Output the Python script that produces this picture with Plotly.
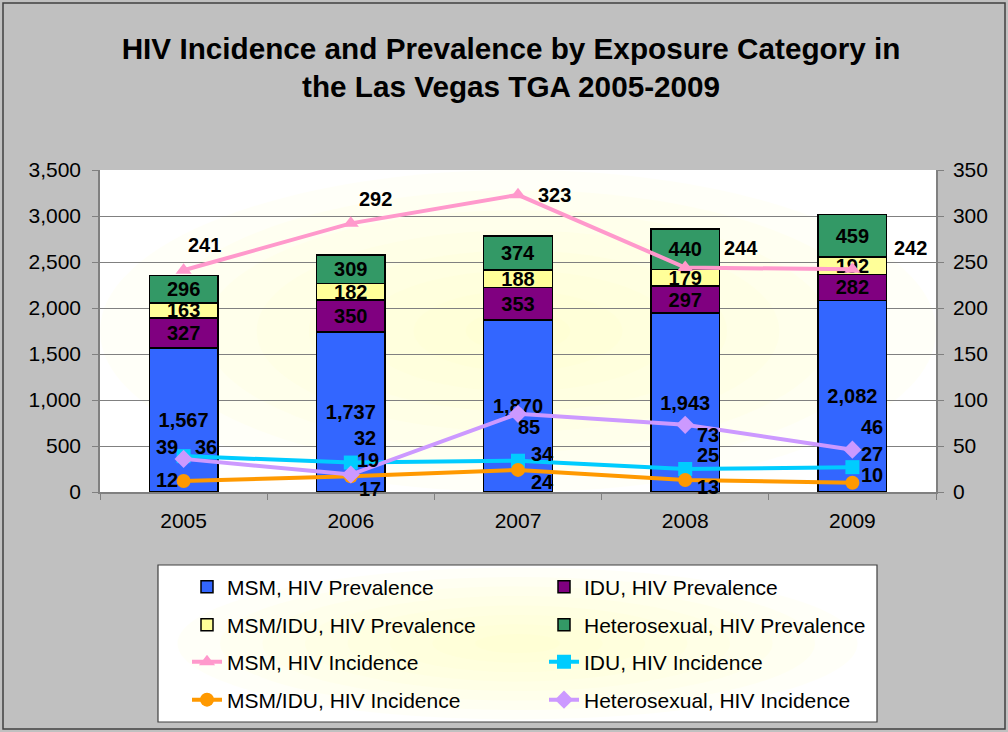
import plotly.graph_objects as go

# ---------------- data ----------------
years = ["2005", "2006", "2007", "2008", "2009"]
msm_prev = [1567, 1737, 1870, 1943, 2082]
idu_prev = [327, 350, 353, 297, 282]
msmidu_prev = [163, 182, 188, 179, 192]
het_prev = [296, 309, 374, 440, 459]
msm_inc = [241, 292, 323, 244, 242]
idu_inc = [39, 32, 34, 25, 27]
msmidu_inc = [12, 17, 24, 13, 10]
het_inc = [36, 19, 85, 73, 46]

# ---------------- layout helpers ----------------
W, H = 1008, 732
L, R, T, B = 100, 936, 170, 492
FONT = "Liberation Sans, Arial, sans-serif"


def px(xp):
    return (xp - L) / (R - L)


def py(yp):
    return (B - yp) / (B - T)


# label offsets (pixels: dx right, dy down) for the incidence labels
msm_off = [(21, -25), (25, -24), (36, 0), (56, -20), (58, -21)]
idu_off = [(-17, -9), (14, -25), (24, -7), (23, -14), (20, -13)]
msmidu_off = [(-17, -1), (19, 13), (24, 12), (23, 7), (20, -8)]
het_off = [(22, -12), (17, -15), (11, 13), (23, 10), (20, -23)]

fig = go.Figure()

bar_specs = [
    ("MSM, HIV Prevalence", msm_prev, "#3366FF", "legend"),
    ("IDU, HIV Prevalence", idu_prev, "#800080", "legend"),
    ("MSM/IDU, HIV Prevalence", msmidu_prev, "#FFFF99", "legend2"),
    ("Heterosexual, HIV Prevalence", het_prev, "#339966", "legend2"),
]
for name, vals, col, lg in bar_specs:
    fig.add_trace(go.Bar(
        x=years, y=vals, name=name, legend=lg,
        marker=dict(color=col, line=dict(color="#000000", width=1.5)),
        texttemplate="%{y:,}", textposition="inside", insidetextanchor="middle",
        constraintext="none", textangle=0,
        textfont=dict(family=FONT, size=20, color="#000000", weight="bold"),
        cliponaxis=False, hoverinfo="skip",
    ))

line_specs = [
    ("MSM, HIV Incidence", msm_inc, "#FF99CC", "triangle-up", msm_off, "legend3"),
    ("IDU, HIV Incidence", idu_inc, "#00CCFF", "square", idu_off, "legend3"),
    ("MSM/IDU, HIV Incidence", msmidu_inc, "#FF9900", "circle", msmidu_off, "legend4"),
    ("Heterosexual, HIV Incidence", het_inc, "#CC99FF", "diamond", het_off, "legend4"),
]
for name, vals, col, sym, offs, lg in line_specs:
    fig.add_trace(go.Scatter(
        x=years, y=vals, name=name, legend=lg, yaxis="y2",
        mode="lines+markers",
        line=dict(color=col, width=4),
        marker=dict(symbol=sym, size=14, color=col),
        cliponaxis=False, hoverinfo="skip",
    ))
    for i, (v, (dx, dy)) in enumerate(zip(vals, offs)):
        fig.add_annotation(
            x=i, y=v, xref="x", yref="y2", text=str(v), showarrow=False,
            xshift=dx, yshift=-dy,
            font=dict(family=FONT, size=20, color="#000000", weight="bold"),
        )

# ---------------- background shapes ----------------
shapes = []
# outer frame
shapes.append(dict(type="rect", xref="paper", yref="paper",
                   x0=px(3), x1=px(1005), y0=py(729), y1=py(3),
                   line=dict(color="#404040", width=1.5), fillcolor="rgba(0,0,0,0)",
                   layer="below"))
# plot area gradient (white edges -> pale yellow centre)
pcx, pcy = (L + R) / 2, (T + B) / 2
for i in range(8):
    f = 1 - i / 8
    rx, ry = 418 * f, 161 * f
    shapes.append(dict(type="circle", xref="paper", yref="paper",
                       x0=px(pcx - rx), x1=px(pcx + rx), y0=py(pcy + ry), y1=py(pcy - ry),
                       line=dict(width=0), fillcolor="rgba(255,255,190,0.10)", layer="below"))
# legend box
lx0, lx1, ly0, ly1 = 158, 877, 565, 722
shapes.append(dict(type="rect", xref="paper", yref="paper",
                   x0=px(lx0), x1=px(lx1), y0=py(ly1), y1=py(ly0),
                   line=dict(color="#404040", width=1.2), fillcolor="#FFFFFF", layer="below"))
lcx, lcy = (lx0 + lx1) / 2, (ly0 + ly1) / 2
for i in range(8):
    f = 1 - i / 8
    rx, ry = 340 * f, 76 * f
    shapes.append(dict(type="circle", xref="paper", yref="paper",
                       x0=px(lcx - rx), x1=px(lcx + rx), y0=py(lcy + ry), y1=py(lcy - ry),
                       line=dict(width=0), fillcolor="rgba(255,255,190,0.10)", layer="below"))

legend_rows = [587, 625, 662, 700]
legend_common = dict(orientation="h", xanchor="left", yanchor="middle",
                     bgcolor="rgba(0,0,0,0)", borderwidth=0,
                     font=dict(family=FONT, size=21, color="#000000"),
                     entrywidth=312, entrywidthmode="pixels", traceorder="normal",
                     itemclick=False, itemdoubleclick=False)
legends = {}
for key, ry in zip(["legend", "legend2", "legend3", "legend4"], legend_rows):
    legends[key] = dict(legend_common, x=px(187), y=py(ry))

TICKFONT = dict(family=FONT, size=21, color="#000000")

fig.update_layout(
    width=W, height=H,
    margin=dict(l=L, r=W - R, t=T, b=H - B, pad=0),
    paper_bgcolor="#C0C0C0", plot_bgcolor="#FFFFFF",
    barmode="stack", bargap=0.59,
    title=dict(
        text="<b>HIV Incidence and Prevalence by Exposure Category in<br>the Las Vegas TGA 2005-2009</b>",
        x=0.507, xanchor="center", y=1 - 58.5 / H, yanchor="middle",
        font=dict(family=FONT, size=29.7, color="#000000"),
    ),
    xaxis=dict(
        type="category", categoryorder="array", categoryarray=years,
        range=[-0.5, len(years) - 0.5],
        showline=True, linecolor="#808080", linewidth=1.5,
        ticks="outside", tickson="boundaries", ticklen=6, tickcolor="#808080",
        tickfont=TICKFONT, showgrid=False, tickangle=0, ticklabelstandoff=9,
    ),
    yaxis=dict(
        range=[0, 3500], dtick=500, tickformat=",", showgrid=True,
        gridcolor="#808080", gridwidth=1, showline=True, linecolor="#808080",
        linewidth=1.5, ticks="outside", ticklen=6, tickcolor="#808080",
        tickfont=TICKFONT, zeroline=False, ticklabelstandoff=7,
    ),
    yaxis2=dict(
        range=[0, 350], dtick=50, overlaying="y", side="right", showgrid=False,
        showline=True, linecolor="#808080", linewidth=1.5, ticks="outside",
        ticklen=6, tickcolor="#808080",
        tickfont=TICKFONT, zeroline=False, ticklabelstandoff=5,
    ),
    shapes=shapes,
    **legends,
)

fig.write_html(
    "out.html",
    config={"displayModeBar": False},
    post_script="document.body.style.margin='0px';document.body.style.padding='0px';",
)
